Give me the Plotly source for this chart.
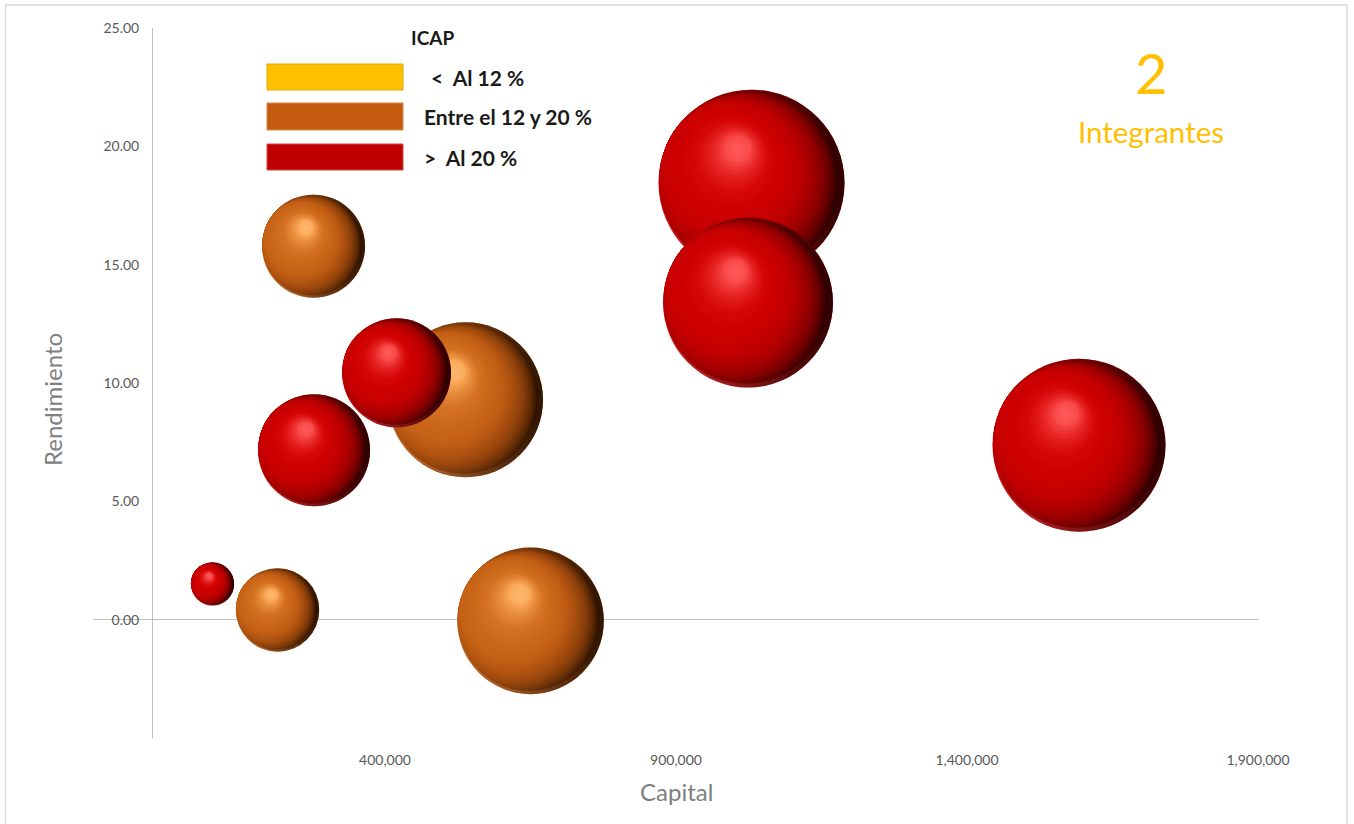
import math
import plotly.graph_objects as go

# ---- Datos de las burbujas ----
capital = [103600, 215300, 277150, 278000, 419760, 538310, 650000, 1029700, 1023700, 1592400]
rendimiento = [1.51, 0.41, 15.78, 7.16, 10.43, 9.29, -0.05, 18.46, 13.40, 7.37]
tamano = [5.4, 20.1, 30.7, 36.3, 34.3, 69.4, 62.1, 100.0, 83.5, 86.5]
icap = ["alto", "medio", "medio", "alto", "alto", "medio", "medio", "alto", "alto", "alto"]

# ---- Leyenda ICAP ----
icap_etiquetas = ["<\u00a0\u00a0Al 12 %", "Entre el 12 y 20 %", ">\u00a0\u00a0Al 20 %"]
icap_colores = ["#FFC000", "#C55A11", "#C00000"]
icap_bordes = ["#E0A800", "#D98546", "#D04A3A"]

# ---- Ejes ----
x_ticks = [400000, 900000, 1400000, 1900000]
y_ticks = [0, 5, 10, 15, 20, 25]
X_RANGE = [-100000, 1900000]
Y_RANGE = [-5, 25]

W, H = 1354, 824
M_L, M_R, M_T, M_B = 94, 96, 28, 86
PW, PH = W - M_L - M_R, H - M_T - M_B
UX = (X_RANGE[1] - X_RANGE[0]) / PW   # unidades de datos por pixel (x)
UY = (Y_RANGE[1] - Y_RANGE[0]) / PH   # unidades de datos por pixel (y)
D_MAX = 186                           # diametro de la burbuja mayor (px)


def paper_x(px):
    return (px - M_L) / PW


def paper_y(py):
    return (H - M_B - py) / PH


# ---- Paletas del sombreado esferico ----
# lado iluminado (izquierda) y lado en sombra (derecha) de las capas externas,
# y rampa solida de las capas internas hasta el brillo
PALETAS = {
    "alto": dict(
        luz=[(0.03, (180, 0, 0)), (0.32, (200, 0, 0))],
        sombra=[(0.03, (42, 0, 0)), (0.07, (92, 0, 0)), (0.13, (140, 0, 0)),
                (0.20, (172, 0, 0)), (0.26, (190, 0, 0)), (0.32, (200, 0, 0))],
        centro=[(0.32, (200, 0, 0)), (0.45, (206, 0, 0)), (0.60, (214, 8, 8)),
                (0.72, (228, 30, 30)), (0.80, (240, 55, 55)), (0.85, (248, 72, 72))],
        borde_sup=(184, 0, 0), borde_inf=(212, 40, 40), oscuro=(40, 0, 0),
        brillo=(255, 90, 90)),
    "medio": dict(
        luz=[(0.03, (180, 84, 16)), (0.32, (198, 98, 22))],
        sombra=[(0.03, (44, 18, 0)), (0.07, (92, 40, 4)), (0.13, (138, 62, 10)),
                (0.20, (168, 78, 14)), (0.26, (188, 90, 18)), (0.32, (198, 98, 22))],
        centro=[(0.32, (198, 98, 22)), (0.45, (204, 104, 26)), (0.60, (212, 114, 34)),
                (0.72, (228, 136, 56)), (0.80, (242, 156, 76)), (0.85, (250, 170, 92))],
        borde_sup=(182, 86, 16), borde_inf=(214, 122, 56), oscuro=(40, 16, 0),
        brillo=(255, 185, 110)),
}


def rgb(c, a=None):
    if a is None:
        return "rgb(%d,%d,%d)" % tuple(c)
    return "rgba(%d,%d,%d,%.3f)" % (c[0], c[1], c[2], a)


def interp(rampa, t):
    if t <= rampa[0][0]:
        return rampa[0][1]
    for (t0, c0), (t1, c1) in zip(rampa[:-1], rampa[1:]):
        if t <= t1:
            f = (t - t0) / (t1 - t0)
            return tuple(round(a + (b - a) * f) for a, b in zip(c0, c1))
    return rampa[-1][1]


T0, T1, T_END = 0.03, 0.32, 0.85
N_EXT, N_INT = 18, 18
U = (-0.86, -0.51)          # direccion de la luz (pantalla)
P2 = (-0.15, -0.36)         # posicion del brillo, en radios


def centro_en(t):
    if t <= T1:
        return (U[0] * t, U[1] * t)
    p1 = (U[0] * T1, U[1] * T1)
    f = (t - T1) / (T_END - T1)
    return (p1[0] + (P2[0] - p1[0]) * f, p1[1] + (P2[1] - p1[1]) * f)


fig = go.Figure()


def capa(x, y, size, color, gradiente=None):
    marker = dict(size=size, color=color, line=dict(width=0))
    if gradiente:
        marker["gradient"] = dict(type=gradiente[0], color=gradiente[1])
    fig.add_trace(go.Scatter(x=[x], y=[y], mode="markers", marker=marker,
                             hoverinfo="skip", showlegend=False, cliponaxis=False))


pasos = [T0 + (T1 - T0) * k / N_EXT for k in range(N_EXT)] + \
        [T1 + (T_END - T1) * k / (N_INT - 1) for k in range(N_INT)]

s_max = max(tamano)
orden = sorted(range(len(capital)), key=lambda i: -tamano[i])
for i in orden:
    d = D_MAX * math.sqrt(tamano[i] / s_max)
    r = d / 2
    p = PALETAS[icap[i]]
    # cuerpo base: borde inferior mas claro y sombra hacia la derecha
    capa(capital[i], rendimiento[i], d, rgb(p["borde_sup"]), ("vertical", rgb(p["borde_inf"])))
    capa(capital[i], rendimiento[i], d, rgb(p["oscuro"], 0.0), ("horizontal", rgb(p["oscuro"], 0.95)))
    for k, t in enumerate(pasos):
        ox, oy = centro_en(t)
        cx = capital[i] + ox * r * UX
        cy = rendimiento[i] - oy * r * UY
        if t < T1:
            capa(cx, cy, d * (1 - t), rgb(interp(p["luz"], t)),
                 ("horizontal", rgb(interp(p["sombra"], t))))
        elif k == len(pasos) - 1:
            capa(cx, cy, d * (1 - t), rgb(interp(p["centro"], t)), ("radial", rgb(p["brillo"])))
        else:
            capa(cx, cy, d * (1 - t), rgb(interp(p["centro"], t)))

# Capa de burbujas (tamano por area) para la informacion al pasar el raton
fig.add_trace(go.Scatter(
    x=capital, y=rendimiento, mode="markers",
    marker=dict(size=tamano, sizemode="area", sizeref=s_max / D_MAX ** 2,
                color="rgba(0,0,0,0)", line=dict(width=0)),
    hovertemplate="Capital: %{x:,.0f}<br>Rendimiento: %{y:.2f}<extra></extra>",
    showlegend=False,
))

tick_font = dict(family="Lato", size=14, color="#595959")
fig.update_layout(
    width=W, height=H,
    margin=dict(l=M_L, r=M_R, t=M_T, b=M_B),
    paper_bgcolor="white", plot_bgcolor="white",
    font=dict(family="Lato"),
    xaxis=dict(range=X_RANGE, showgrid=False, showline=False,
               zeroline=True, zerolinecolor="#BFBFBF", zerolinewidth=1.3,
               tickvals=x_ticks, ticktext=["{:,}".format(v) for v in x_ticks],
               tickfont=tick_font, ticks="", ticklabelstandoff=12,
               fixedrange=True),
    yaxis=dict(range=Y_RANGE, showgrid=False, showline=False,
               zeroline=True, zerolinecolor="#BFBFBF", zerolinewidth=1.3,
               anchor="free", position=(0 - X_RANGE[0]) / (X_RANGE[1] - X_RANGE[0]),
               tickvals=y_ticks, ticktext=["%.2f" % v for v in y_ticks],
               tickfont=tick_font, ticks="", ticklabelstandoff=13,
               fixedrange=True),
)

shapes = [dict(type="rect", xref="paper", yref="paper",
               x0=paper_x(5.5), x1=paper_x(1347), y0=paper_y(840), y1=paper_y(5),
               line=dict(color="#D9D9D9", width=1.5), fillcolor="rgba(0,0,0,0)")]
annotations = [
    dict(text="<b>ICAP</b>", x=paper_x(432), y=paper_y(38)),
    dict(text="2", x=paper_x(1151), y=paper_y(72),
         font=dict(family="Lato", size=56, color="#FFC000")),
    dict(text="Integrantes", x=paper_x(1151), y=paper_y(131),
         font=dict(family="Lato", size=29.5, color="#FFC000")),
    dict(text="Capital", x=paper_x(676), y=paper_y(792),
         font=dict(family="Lato", size=24, color="#808080")),
    dict(text="Rendimiento", x=paper_x(52), y=paper_y(400), textangle=-90,
         font=dict(family="Lato", size=24, color="#808080")),
]
legend_y = [(64, 90), (103, 130), (144, 170)]
legend_tx = [429, 422, 422]
for (y0, y1), tx, lab, col, bor in zip(legend_y, legend_tx, icap_etiquetas, icap_colores, icap_bordes):
    shapes.append(dict(type="rect", xref="paper", yref="paper",
                       x0=paper_x(267), x1=paper_x(403), y0=paper_y(y1), y1=paper_y(y0),
                       fillcolor=col, line=dict(color=bor, width=1)))
    annotations.append(dict(text="<b>%s</b>" % lab, x=paper_x(tx), y=paper_y((y0 + y1) / 2),
                            xanchor="left", font=dict(family="Lato", size=21, color="#1A1A1A")))

for a in annotations:
    a.setdefault("xref", "paper")
    a.setdefault("yref", "paper")
    a.setdefault("xanchor", "center")
    a.setdefault("yanchor", "middle")
    a.setdefault("showarrow", False)
    a.setdefault("font", dict(family="Lato", size=19, color="#1A1A1A"))

fig.update_layout(shapes=shapes, annotations=annotations)

fig.write_html("out.html")
